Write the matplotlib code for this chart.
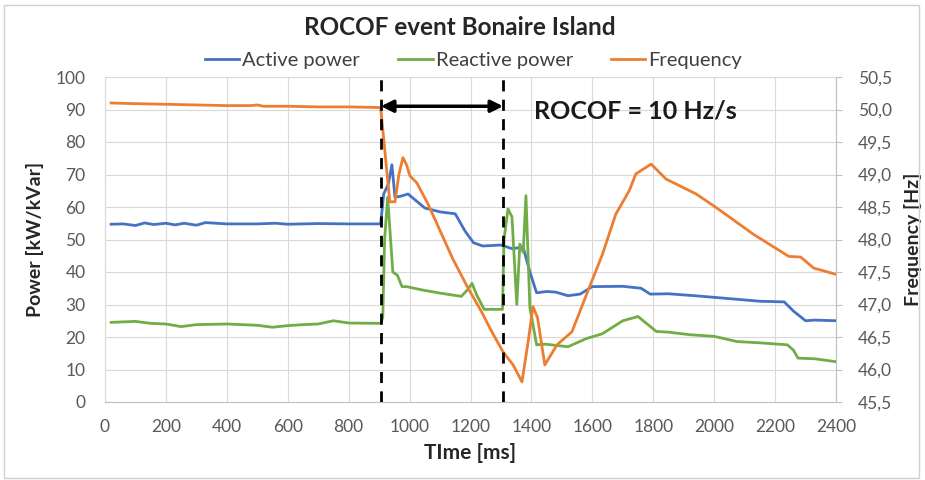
import matplotlib
matplotlib.use("Agg")
import matplotlib.pyplot as plt
from matplotlib.patches import Rectangle

# ---------------- data ----------------
time_active = [20, 60, 100, 130, 160, 200, 230, 260, 300, 330, 400, 500, 560, 600, 700, 800, 905,
               915, 930, 942, 952, 970, 995, 1050, 1100, 1150, 1182, 1210, 1240, 1300, 1336, 1373,
               1395, 1417, 1450, 1480, 1520, 1560, 1600, 1700, 1760, 1790, 1850, 1950, 2050, 2150,
               2230, 2260, 2300, 2330, 2400]
active_power = [54.7, 54.8, 54.3, 55.1, 54.6, 55.0, 54.5, 55.0, 54.4, 55.2, 54.8, 54.8, 55.0, 54.7,
                54.9, 54.8, 54.8,
                64.0, 67.0, 73.0, 63.0, 63.3, 64.0, 59.7, 58.5, 57.9, 52.6, 49.0, 48.0, 48.3, 47.2,
                47.6, 40.0, 33.6, 34.0, 33.8, 32.7, 33.2, 35.5, 35.6, 35.0, 33.2, 33.3, 32.6, 31.8,
                31.0, 30.8, 28.0, 25.0, 25.2, 25.0]

time_reactive = [20, 100, 150, 200, 250, 300, 400, 500, 550, 600, 650, 700, 750, 800, 905,
                 912, 918, 928, 945, 960, 975, 990, 1040, 1100, 1170, 1190, 1205, 1220, 1245, 1305,
                 1310, 1323, 1336, 1352, 1362, 1373, 1382, 1395, 1417, 1445, 1520, 1580, 1633, 1700,
                 1750, 1810, 1850, 1920, 2000, 2075, 2150, 2240, 2260, 2275, 2330, 2400]
reactive_power = [24.5, 24.8, 24.2, 24.0, 23.2, 23.8, 24.0, 23.6, 23.0, 23.5, 23.8, 24.0, 25.0, 24.3,
                  24.2,
                  26.0, 50.0, 63.0, 40.0, 39.0, 35.5, 35.5, 34.5, 33.5, 32.5, 34.5, 36.5, 33.0, 28.5,
                  28.5,
                  50.0, 59.4, 57.0, 30.0, 48.6, 46.0, 63.5, 29.0, 17.6, 17.8, 17.0, 19.5, 21.0, 25.0,
                  26.3, 21.7, 21.5, 20.7, 20.2, 18.6, 18.2, 17.6, 16.0, 13.5, 13.3, 12.4]

time_freq = [20, 100, 200, 300, 400, 480, 500, 520, 600, 700, 800, 905,
             935, 952, 965, 978, 990, 1001, 1024, 1060, 1093, 1142, 1190, 1236, 1270, 1307, 1340,
             1369, 1390, 1405, 1420, 1444, 1484, 1533, 1589, 1633, 1677, 1721, 1743, 1793, 1842,
             1941, 2007, 2129, 2245, 2284, 2327, 2403]
frequency = [50.10, 50.09, 50.08, 50.07, 50.06, 50.06, 50.07, 50.05, 50.05, 50.04, 50.04, 50.03,
             48.58, 48.58, 49.0, 49.26, 49.15, 48.98, 48.87, 48.55, 48.21, 47.70, 47.27, 46.89,
             46.58, 46.27, 46.07, 45.81, 46.45, 46.97, 46.80, 46.07, 46.38, 46.58, 47.25, 47.77,
             48.39, 48.75, 49.01, 49.16, 48.93, 48.70, 48.49, 48.08, 47.74, 47.73, 47.56, 47.46]

power_ticks = list(range(0, 101, 10))
freq_ticks = [45.5, 46.0, 46.5, 47.0, 47.5, 48.0, 48.5, 49.0, 49.5, 50.0, 50.5]
freq_tick_labels = [f"{v:.1f}".replace(".", ",") for v in freq_ticks]
time_ticks = list(range(0, 2401, 200))

event_start = 906
event_end = 1307
arrow_level = 91

title = "ROCOF event Bonaire Island"
annotation = "ROCOF = 10 Hz/s"

# ---------------- style ----------------
FONT = ["Lato", "DejaVu Sans"]
plt.rcParams["font.family"] = FONT
BLUE = "#4472C4"
GREEN = "#70AD47"
ORANGE = "#ED7D31"
TICK = "#595959"
GRID = "#D9D9D9"

fig = plt.figure(figsize=(9.25, 4.8), dpi=100)
fig.patches.append(Rectangle((0.004, 0.005), 0.99, 0.985, transform=fig.transFigure,
                             fill=False, edgecolor="#D0D0D0", linewidth=1.0))

ax = fig.add_axes([105 / 925, 1 - 402 / 480, (836 - 105) / 925, (402 - 77) / 480])
ax2 = ax.twinx()

l1, = ax.plot(time_active, active_power, color=BLUE, lw=2.0, label="Active power", zorder=3)
l2, = ax.plot(time_reactive, reactive_power, color=GREEN, lw=2.0, label="Reactive power", zorder=3)
l3, = ax2.plot(time_freq, frequency, color=ORANGE, lw=2.0, label="Frequency", zorder=3)

ax.set_xlim(0, 2400)
ax.set_ylim(0, 100)
ax2.set_ylim(45.5, 50.5)
ax.set_xticks(time_ticks)
ax.set_yticks(power_ticks)
ax2.set_yticks(freq_ticks)
ax2.set_yticklabels(freq_tick_labels)

ax.grid(True, color=GRID, lw=0.8)
ax.set_axisbelow(True)

for a in (ax, ax2):
    for s in a.spines.values():
        s.set_visible(False)
ax.spines["bottom"].set_visible(True)
ax.spines["bottom"].set_color("#BFBFBF")
ax.spines["left"].set_visible(True)
ax.spines["left"].set_color("#D9D9D9")
ax2.spines["right"].set_visible(True)
ax2.spines["right"].set_color("#BFBFBF")

ax.tick_params(axis="x", length=0, pad=12, labelsize=12.5, labelcolor=TICK)
ax.tick_params(axis="y", length=0, pad=14, labelsize=12.5, labelcolor=TICK)
ax2.tick_params(axis="y", length=4, color="#BFBFBF", pad=12, labelsize=12.5, labelcolor=TICK)

ax.set_xlabel("TIme [ms]", fontsize=15, fontweight="bold", color="#262626", labelpad=6)
ax.set_ylabel("Power [kW/kVar]", fontsize=14, fontweight="bold", color="#262626", labelpad=8)
ax2.set_ylabel("Frequency [Hz]", fontsize=14, fontweight="bold", color="#262626", labelpad=8)

# event markers
for t in (event_start, event_end):
    ax2.axvline(t, color="black", lw=2.0, ls=(0, (4, 3)), zorder=5, ymin=0, ymax=1)
ax.annotate("", xy=(event_start, arrow_level), xytext=(event_end, arrow_level),
            arrowprops=dict(arrowstyle="<|-|>", color="black", lw=2.5, mutation_scale=18,
                            shrinkA=0, shrinkB=0), zorder=6)
ax.text(1410, arrow_level - 1.5, annotation, fontsize=18, fontweight="bold", color="#1a1a1a",
        va="center", ha="left")

fig.text(0.497, 0.942, title, fontsize=17.5, fontweight="bold", color="#262626",
         ha="center", va="center")
fig.legend(handles=[l1, l2, l3], loc="center", bbox_to_anchor=(0.512, 0.874), ncol=3,
           frameon=False, fontsize=14.5, handlelength=1.7, handletextpad=0.15,
           columnspacing=1.9, labelcolor="#404040")

fig.savefig("out.png", dpi=100)
